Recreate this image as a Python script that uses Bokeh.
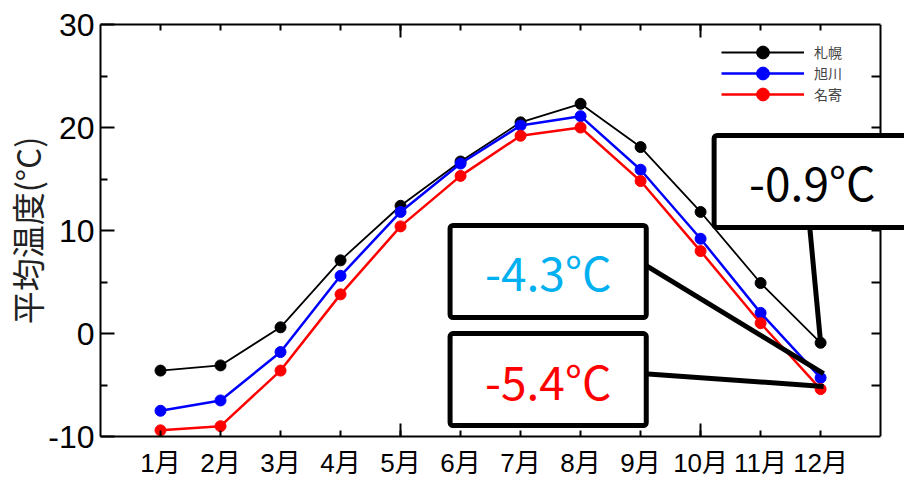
import math
from bokeh.plotting import figure
from bokeh.models import (ColumnDataSource, LinearAxis, FixedTicker, Label, Range1d,
                          Legend, LegendItem)
from bokeh.embed import file_html
from bokeh.resources import INLINE

# ---- data ----
months = [1, 2, 3, 4, 5, 6, 7, 8, 9, 10, 11, 12]
month_labels = ["1月", "2月", "3月", "4月", "5月", "6月", "7月", "8月", "9月", "10月", "11月", "12月"]
sapporo = [-3.6, -3.1, 0.6, 7.1, 12.4, 16.7, 20.5, 22.3, 18.1, 11.8, 4.9, -0.9]
asahikawa = [-7.5, -6.5, -1.8, 5.6, 11.8, 16.5, 20.2, 21.1, 15.9, 9.2, 2.0, -4.3]
nayoro = [-9.4, -9.0, -3.6, 3.8, 10.4, 15.3, 19.2, 20.0, 14.8, 8.0, 1.0, -5.4]
series_names = ["札幌", "旭川", "名寄"]
series_colors = ["#000000", "#0000FF", "#FF0000"]
series_widths = [1.8, 2.5, 2.5]
y_major_ticks = [-10, 0, 10, 20, 30]
y_major_labels = ["-10", "0", "10", "20", "30"]
y_minor_ticks = [-5, 5, 15, 25]
y_right_ticks = [-5, 0, 5, 10, 15, 20, 25]
x_long_ticks = [5, 10]
x_end = 13
y_title = "平均温度(°C)"

# call-out boxes: text, colour, centre (data units)
callout_texts = ["-0.9°C", "-4.3°C", "-5.4°C"]
callout_colors = ["#000000", "#00B0F0", "#FF0000"]
callout_x = [11.86, 7.46, 7.46]
callout_y = [14.76, 6.02, -4.47]
# connector lines (data units)
conn_x0 = [11.80, 8.95, 8.95]
conn_y0 = [11.5, 7.1, -3.85]
conn_x1 = [12.0, 12.05, 12.05]
conn_y1 = [-0.9, -3.9, -5.15]

# legend rows: offset of each row's bottom from the frame bottom (px)
legend_x = 621
legend_row_y = [368, 347, 326]

CJK = "'Noto Sans CJK JP'"
MIX = "'Liberation Sans', 'Noto Sans CJK JP'"

p = figure(width=904, height=482, output_backend="svg", toolbar_location=None,
           x_range=Range1d(0, 13.398), y_range=Range1d(-10, 30),
           min_border_left=96, min_border_right=0, min_border_top=24, min_border_bottom=46)
p.xgrid.visible = False
p.ygrid.visible = False
p.outline_line_color = None
p.background_fill_color = "white"
p.border_fill_color = "white"


def tick_style(ax, line=True):
    ax.axis_line_width = 2
    ax.major_tick_line_width = 2
    ax.minor_tick_line_width = 2
    ax.major_tick_out = 0
    ax.minor_tick_out = 0
    if not line:
        ax.axis_line_color = None


# left axis (labels + title)
ya = p.yaxis[0]
ya.ticker = FixedTicker(ticks=y_major_ticks, minor_ticks=y_minor_ticks)
tick_style(ya)
ya.major_tick_in = 14
ya.minor_tick_in = 7
ya.major_label_overrides = {t: s for t, s in zip(y_major_ticks, y_major_labels)}
ya.major_label_text_font = "Liberation Sans"
ya.major_label_text_font_size = "32px"
ya.major_label_text_color = "black"
ya.major_label_standoff = 6
ya.axis_label = y_title
ya.axis_label_text_font = CJK
ya.axis_label_text_font_size = "33px"
ya.axis_label_text_font_style = "normal"
ya.axis_label_text_color = "#222222"
ya.axis_label_standoff = -6

# bottom axis: month labels + short ticks
xa = p.xaxis[0]
xa.ticker = FixedTicker(ticks=months, minor_ticks=[])
tick_style(xa)
xa.bounds = (0, x_end)
xa.major_tick_in = 6
xa.major_label_overrides = {m: lab for m, lab in zip(months, month_labels)}
xa.major_label_text_font = MIX
xa.major_label_text_font_size = "26px"
xa.major_label_text_color = "black"
xa.major_label_standoff = 11

# bottom long ticks
xb = LinearAxis(ticker=FixedTicker(ticks=[], minor_ticks=x_long_ticks), fixed_location=-10)
tick_style(xb, line=False)
xb.minor_tick_in = 13
p.add_layout(xb, "below")

# top axis: short ticks + long ticks
xt = LinearAxis(ticker=FixedTicker(ticks=[], minor_ticks=months), bounds=(0, x_end))
tick_style(xt)
xt.minor_tick_in = 6
p.add_layout(xt, "above")
xt2 = LinearAxis(ticker=FixedTicker(ticks=[], minor_ticks=x_long_ticks), fixed_location=30)
tick_style(xt2, line=False)
xt2.minor_tick_in = 13
p.add_layout(xt2, "above")

# right axis drawn at x = 13, beneath the call-out boxes
yr = LinearAxis(ticker=FixedTicker(ticks=[], minor_ticks=y_right_ticks), fixed_location=x_end)
tick_style(yr)
yr.minor_tick_in = 9
yr.level = "underlay"
p.add_layout(yr, "right")

# series + one legend per row
for name, vals, col, lw, ly in zip(series_names, [sapporo, asahikawa, nayoro],
                                   series_colors, series_widths, legend_row_y):
    src = ColumnDataSource(dict(x=months, y=vals))
    r_line = p.line("x", "y", source=src, line_color=col, line_width=lw)
    r_pts = p.scatter("x", "y", source=src, size=11, fill_color=col, line_color=col)
    lg = Legend(items=[LegendItem(label=name, renderers=[r_line, r_pts])],
                location=(legend_x, ly), margin=0, padding=0, spacing=0,
                glyph_width=83, glyph_height=32, label_height=20, label_standoff=10,
                label_text_font=CJK, label_text_font_size="14px",
                label_text_baseline="middle", border_line_color=None,
                background_fill_alpha=0)
    p.add_layout(lg, "center")

# connector lines
p.segment(x0=conn_x0, y0=conn_y0, x1=conn_x1, y1=conn_y1, line_color="black", line_width=5)

# call-out boxes
for t, c, cx, cy in zip(callout_texts, callout_colors, callout_x, callout_y):
    p.add_layout(Label(x=cx, y=cy, text=t, text_color=c, text_font=CJK, text_font_size="46px",
                       text_align="center", text_baseline="middle",
                       background_fill_color="white", border_line_color="black",
                       border_line_width=5, border_radius=3,
                       padding=dict(left=35, right=35, top=13, bottom=13)))

open("out.html", "w").write(file_html(p, INLINE))
